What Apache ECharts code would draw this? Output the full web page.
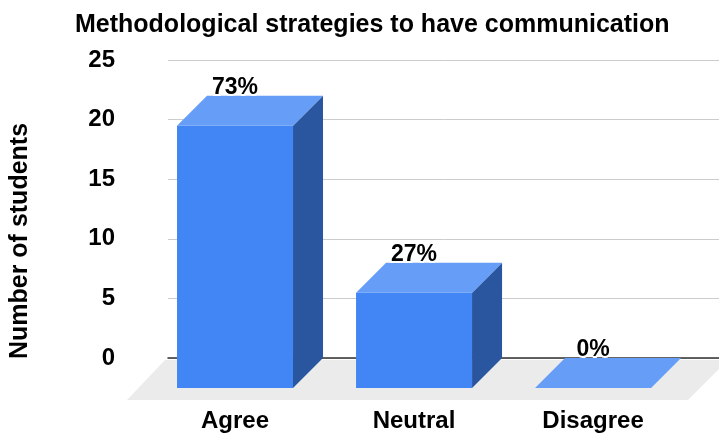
<!DOCTYPE html>
<html>
<head>
<meta charset="utf-8">
<script src="https://cdn.jsdelivr.net/npm/echarts@6/dist/echarts.min.js"></script>
<style>
html,body{margin:0;padding:0;background:#fff;}
#chart{width:719px;height:439px;}
</style>
</head>
<body>
<div id="chart"></div>
<script>
const title = 'Methodological strategies to have communication';
const yAxisTitle = 'Number of students';
const categories = ['Agree', 'Neutral', 'Disagree'];
const students = [22, 8, 0];
const yMin = 0, yMax = 25, yStep = 5;

const total = students.reduce((a, b) => a + b, 0);
const percents = students.map(v => Math.round(v / total * 100) + '%');

const FONT = '"Liberation Sans", Arial, sans-serif';
const DX = -30, DY = 30;
const C_FRONT = '#4285F4', C_TOP = '#669DF6', C_SIDE = '#2A56A0';

const chart = echarts.init(document.getElementById('chart'), null, {renderer: 'canvas'});

function renderFloor(params, api) {
  const cs = params.coordSys;
  const by = cs.y + cs.height + 2;
  const bl = cs.x - 3, br = cs.x + cs.width + 9;
  return {
    type: 'polygon',
    shape: {points: [[bl, by], [br, by], [br - 40, by + 40], [bl - 38, by + 40]]},
    style: {fill: '#EBEBEB'},
    z2: 0
  };
}

function renderBar(params, api) {
  const i = api.value(0), v = api.value(1);
  const top = api.coord([i, v]);
  const base = api.coord([i, 0]);
  const half = api.size([1, 0])[0] * 0.648 / 2;
  const l = top[0] - half, r = top[0] + half;
  const t = top[1], b = base[1];
  const children = [];
  if (b - t > 0.5) {
    children.push({
      type: 'rect',
      shape: {x: l + DX, y: t + DY, width: r - l, height: b - t},
      style: {fill: C_FRONT}
    });
    children.push({
      type: 'polygon',
      shape: {points: [[r + DX, t + DY], [r, t], [r, b], [r + DX, b + DY]]},
      style: {fill: C_SIDE}
    });
  }
  children.push({
    type: 'polygon',
    shape: {points: [[l + DX, t + DY], [r + DX, t + DY], [r, t], [l, t]]},
    style: {fill: C_TOP}
  });
  children.push({
    type: 'text',
    x: top[0] + DX, y: t - 8,
    style: {
      text: percents[params.dataIndex],
      font: 'bold 23px ' + FONT,
      fill: '#000',
      stroke: '#fff', lineWidth: 4,
      align: 'center', verticalAlign: 'middle'
    },
    z2: 10
  });
  children.push({
    type: 'text',
    x: top[0] + DX, y: 421,
    style: {
      text: categories[params.dataIndex],
      font: 'bold 24px ' + FONT,
      fill: '#000',
      align: 'center', verticalAlign: 'middle'
    }
  });
  return {type: 'group', children: children};
}

chart.setOption({
  animation: false,
  backgroundColor: '#fff',
  title: {
    text: title,
    left: 70, top: 8,
    textStyle: {fontFamily: FONT, fontWeight: 'bold', fontSize: 25, color: '#000', lineHeight: 25}
  },
  graphic: [{
    type: 'text',
    x: 20, y: 241,
    rotation: Math.PI / 2,
    style: {
      text: yAxisTitle,
      font: 'bold 25px ' + FONT,
      fill: '#000',
      align: 'center', verticalAlign: 'middle'
    }
  }],
  grid: {left: 168, right: 0, top: 60, bottom: 81, containLabel: false},
  xAxis: {
    type: 'value',
    min: -0.542, max: 2.536,
    axisLine: {show: true, onZero: true, lineStyle: {color: '#333', width: 1.5}},
    axisTick: {show: false},
    axisLabel: {show: false},
    splitLine: {show: false}
  },
  yAxis: {
    type: 'value',
    min: yMin, max: yMax, interval: yStep,
    axisLine: {show: false},
    axisTick: {show: false},
    axisLabel: {margin: 53, fontFamily: FONT, fontWeight: 'bold', fontSize: 24, color: '#000'},
    splitLine: {lineStyle: {color: '#CCCCCC', width: 1}}
  },
  series: [
    {
      type: 'custom',
      renderItem: renderFloor,
      data: [[0, 0]],
      silent: true,
      z: 1
    },
    {
      type: 'custom',
      renderItem: renderBar,
      data: students.map((v, i) => [i, v]),
      encode: {x: 0, y: 1},
      clip: false,
      z: 3
    }
  ]
});
</script>
</body>
</html>
